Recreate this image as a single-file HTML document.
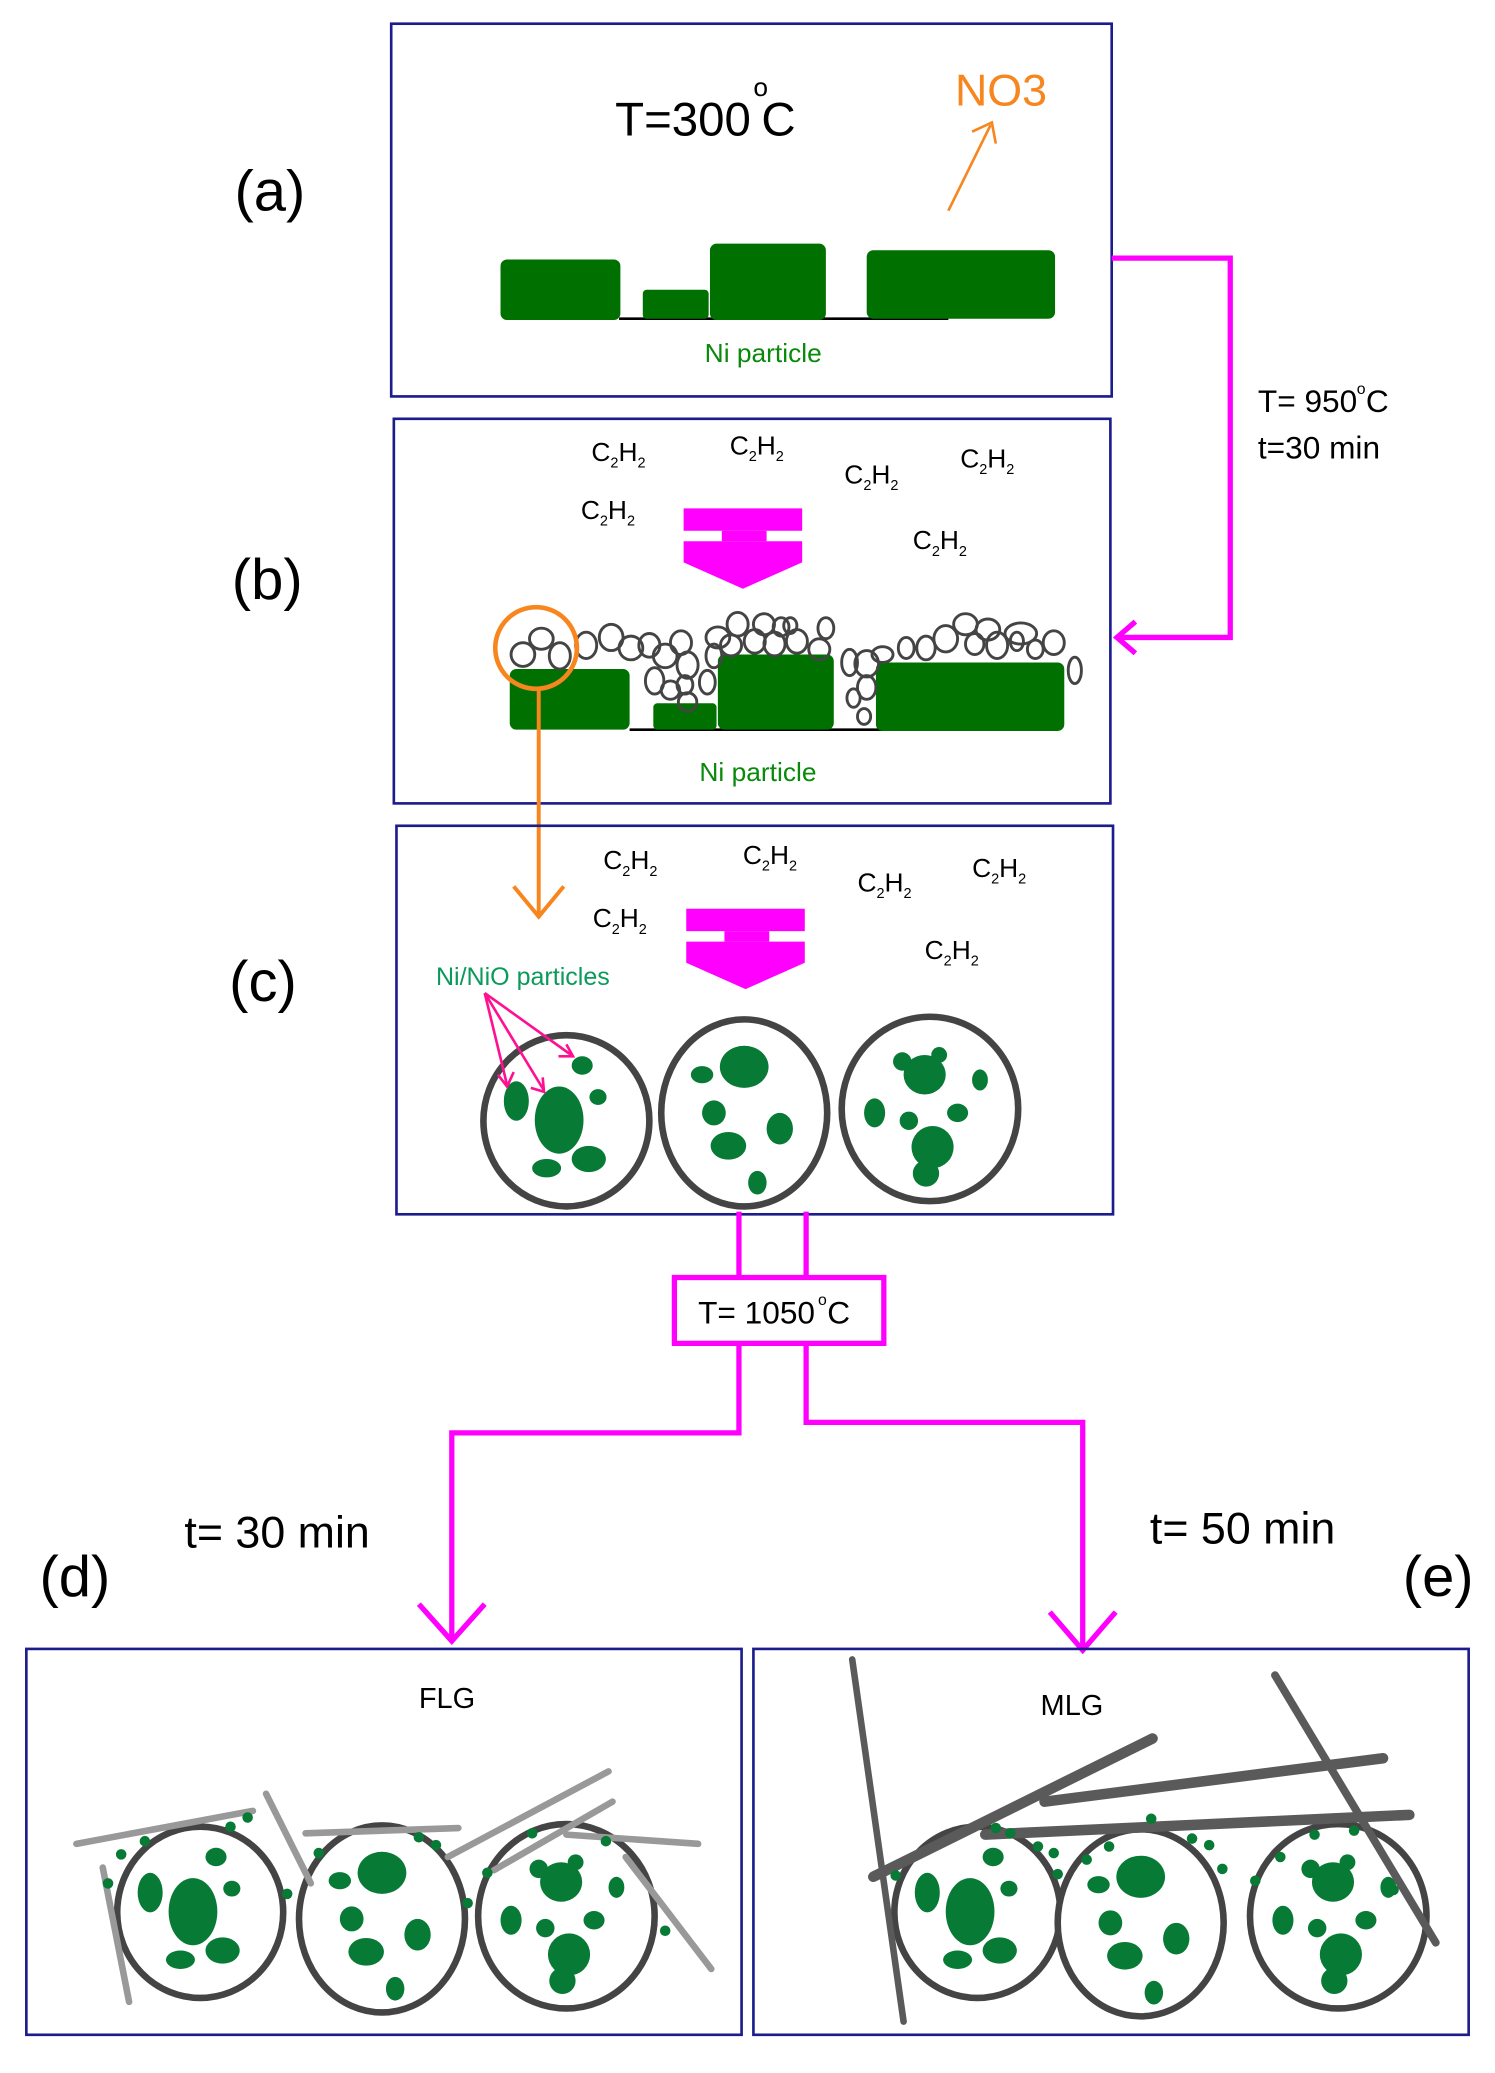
<!DOCTYPE html>
<html><head><meta charset="utf-8"><style>
html,body{margin:0;padding:0;background:#fff;}
svg{display:block;}
text{font-family:"Liberation Sans",sans-serif;}
</style></head><body>
<svg width="1495" height="2073" viewBox="0 0 1135 1574" preserveAspectRatio="none" xmlns="http://www.w3.org/2000/svg">
<defs>
<g id="c1">
 <ellipse cx="430" cy="851" rx="63" ry="65" fill="#fff" stroke="#444" stroke-width="5"/>
 <ellipse cx="392" cy="836" rx="9.5" ry="15" fill="#077a35"/>
 <ellipse cx="424.5" cy="850.5" rx="18.5" ry="25.5" fill="#077a35"/>
 <ellipse cx="442" cy="809" rx="8" ry="7" fill="#077a35"/>
 <ellipse cx="454" cy="833" rx="6.5" ry="6" fill="#077a35"/>
 <ellipse cx="415" cy="887" rx="11" ry="7" fill="#077a35"/>
 <ellipse cx="447" cy="880" rx="13" ry="10" fill="#077a35"/>
</g>
<g id="c2">
 <ellipse cx="565" cy="845" rx="63" ry="71" fill="#fff" stroke="#444" stroke-width="5"/>
 <ellipse cx="565" cy="810" rx="18.5" ry="16" fill="#077a35"/>
 <ellipse cx="533" cy="816" rx="8.5" ry="6.5" fill="#077a35"/>
 <ellipse cx="542" cy="845" rx="9" ry="9.5" fill="#077a35"/>
 <ellipse cx="553" cy="870" rx="13.5" ry="10.5" fill="#077a35"/>
 <ellipse cx="575" cy="898" rx="7" ry="9" fill="#077a35"/>
 <ellipse cx="592" cy="857" rx="10" ry="12" fill="#077a35"/>
</g>
<g id="c3">
 <ellipse cx="706" cy="842" rx="67" ry="70" fill="#fff" stroke="#444" stroke-width="5"/>
 <ellipse cx="702" cy="816" rx="16" ry="15" fill="#077a35"/>
 <circle cx="685" cy="806" r="7" fill="#077a35"/>
 <circle cx="713" cy="801" r="6" fill="#077a35"/>
 <ellipse cx="744" cy="820" rx="6" ry="8" fill="#077a35"/>
 <ellipse cx="664" cy="845" rx="8" ry="11" fill="#077a35"/>
 <ellipse cx="727" cy="845" rx="8" ry="7" fill="#077a35"/>
 <circle cx="690" cy="851" r="7" fill="#077a35"/>
 <ellipse cx="708" cy="871" rx="16" ry="16" fill="#077a35"/>
 <ellipse cx="703" cy="891" rx="10" ry="10" fill="#077a35"/>
</g>
<g id="arr">
 <rect x="0" y="0" width="90" height="17" fill="#f0f"/>
 <rect x="29" y="17" width="34" height="8" fill="#f0f"/>
 <polygon points="0,25 90,25 90,41 45,61 0,41" fill="#f0f"/>
</g>
</defs>

<!-- Box a -->
<rect x="297" y="18" width="547" height="283" fill="none" stroke="#1c1c8c" stroke-width="2"/>
<text x="178" y="160" font-size="44">(a)</text>
<text x="467" y="103" font-size="36">T=300</text>
<text x="572" y="73" font-size="20">o</text>
<text x="578" y="103" font-size="36">C</text>
<text x="725" y="80" font-size="34" fill="#f7861e">NO3</text>
<line x1="720" y1="160" x2="752" y2="95" stroke="#f7861e" stroke-width="2"/>
<polyline points="738,100 753,93 756,109" fill="none" stroke="#f7861e" stroke-width="2"/>
<line x1="470" y1="242" x2="720" y2="242" stroke="#000" stroke-width="2"/>
<rect x="380" y="197" width="91" height="46" rx="5" fill="#007000"/>
<rect x="488" y="220" width="50" height="22" rx="3" fill="#007000"/>
<rect x="539" y="185" width="88" height="58" rx="5" fill="#007000"/>
<rect x="658" y="190" width="143" height="52" rx="5" fill="#007000"/>
<text x="535" y="275" font-size="20" fill="#0a8a0a">Ni particle</text>

<!-- magenta connector a->b -->
<polyline points="844,196 934,196 934,484 850,484" fill="none" stroke="#f0f" stroke-width="4"/>
<polyline points="862,472 848,484 862,496" fill="none" stroke="#f0f" stroke-width="4"/>
<text x="955" y="313" font-size="24">T= 950</text>
<text x="1030" y="299" font-size="12">o</text>
<text x="1037" y="313" font-size="24">C</text>
<text x="955" y="348" font-size="24">t=30 min</text>

<!-- Box b -->
<rect x="299" y="318" width="544" height="292" fill="none" stroke="#1c1c8c" stroke-width="2"/>
<text x="176" y="455" font-size="44">(b)</text>
<g font-size="20">
<text x="449" y="350">C<tspan font-size="11" dy="5">2</tspan><tspan dy="-5">H</tspan><tspan font-size="11" dy="5">2</tspan></text>
<text x="554" y="345">C<tspan font-size="11" dy="5">2</tspan><tspan dy="-5">H</tspan><tspan font-size="11" dy="5">2</tspan></text>
<text x="641" y="367">C<tspan font-size="11" dy="5">2</tspan><tspan dy="-5">H</tspan><tspan font-size="11" dy="5">2</tspan></text>
<text x="729" y="355">C<tspan font-size="11" dy="5">2</tspan><tspan dy="-5">H</tspan><tspan font-size="11" dy="5">2</tspan></text>
<text x="441" y="394">C<tspan font-size="11" dy="5">2</tspan><tspan dy="-5">H</tspan><tspan font-size="11" dy="5">2</tspan></text>
<text x="693" y="417">C<tspan font-size="11" dy="5">2</tspan><tspan dy="-5">H</tspan><tspan font-size="11" dy="5">2</tspan></text>
</g>
<use href="#arr" x="519" y="386"/>
<line x1="478" y1="554" x2="725" y2="554" stroke="#000" stroke-width="2"/>
<rect x="387" y="508" width="91" height="46" rx="5" fill="#007000"/>
<rect x="496" y="534" width="48" height="20" rx="3" fill="#007000"/>
<rect x="545" y="497" width="88" height="57" rx="5" fill="#007000"/>
<rect x="665" y="503" width="143" height="52" rx="5" fill="#007000"/>
<g fill="none" stroke="#444" stroke-width="2.2">
<ellipse cx="397" cy="497" rx="9" ry="9"/><ellipse cx="411" cy="485" rx="9" ry="8"/><ellipse cx="425" cy="498" rx="8" ry="10"/>
<ellipse cx="445" cy="490" rx="8" ry="10"/><ellipse cx="464" cy="484" rx="9" ry="10"/><ellipse cx="479" cy="492" rx="9" ry="9"/>
<ellipse cx="493" cy="490" rx="8" ry="9"/><ellipse cx="505" cy="498" rx="9" ry="9"/><ellipse cx="497" cy="517" rx="7" ry="10"/>
<ellipse cx="517" cy="488" rx="8" ry="9"/><ellipse cx="522" cy="505" rx="8" ry="10"/><ellipse cx="509" cy="524" rx="7" ry="7"/>
<ellipse cx="520" cy="520" rx="6" ry="7"/><ellipse cx="537" cy="518" rx="6" ry="9"/><ellipse cx="522" cy="533" rx="7" ry="7"/>
<ellipse cx="542" cy="498" rx="6" ry="9"/><ellipse cx="545" cy="484" rx="9" ry="8"/><ellipse cx="560" cy="474" rx="8" ry="9"/>
<ellipse cx="555" cy="490" rx="8" ry="8"/><ellipse cx="573" cy="487" rx="8" ry="9"/><ellipse cx="580" cy="474" rx="8" ry="8"/>
<ellipse cx="593" cy="476" rx="6" ry="7"/><ellipse cx="588" cy="489" rx="8" ry="9"/><ellipse cx="605" cy="487" rx="8" ry="9"/>
<ellipse cx="600" cy="475" rx="5" ry="6"/><ellipse cx="627" cy="477" rx="6" ry="8"/><ellipse cx="622" cy="493" rx="8" ry="8"/>
<ellipse cx="645" cy="503" rx="6" ry="10"/><ellipse cx="658" cy="504" rx="9" ry="10"/><ellipse cx="658" cy="522" rx="7" ry="9"/>
<ellipse cx="648" cy="530" rx="5" ry="7"/><ellipse cx="656" cy="544" rx="5" ry="6"/><ellipse cx="670" cy="497" rx="8" ry="6"/>
<ellipse cx="688" cy="492" rx="6" ry="8"/><ellipse cx="703" cy="492" rx="7" ry="9"/><ellipse cx="718" cy="485" rx="9" ry="10"/>
<ellipse cx="733" cy="474" rx="9" ry="8"/><ellipse cx="740" cy="489" rx="7" ry="8"/><ellipse cx="750" cy="478" rx="9" ry="8"/>
<ellipse cx="757" cy="490" rx="8" ry="10"/><ellipse cx="772" cy="487" rx="5" ry="7"/><ellipse cx="775" cy="481" rx="12" ry="8"/>
<ellipse cx="786" cy="493" rx="6" ry="7"/><ellipse cx="800" cy="488" rx="8" ry="9"/><ellipse cx="816" cy="509" rx="5" ry="10"/>
</g>
<circle cx="407" cy="492" r="31" fill="none" stroke="#f7861e" stroke-width="3.5"/>
<line x1="409" y1="523" x2="409" y2="695" stroke="#f7861e" stroke-width="3"/>
<polyline points="390,673 409,696 428,673" fill="none" stroke="#f7861e" stroke-width="3"/>
<text x="531" y="593" font-size="20" fill="#0a8a0a">Ni particle</text>

<!-- Box c -->
<rect x="301" y="627" width="544" height="295" fill="none" stroke="#1c1c8c" stroke-width="2"/>
<text x="174" y="760" font-size="44">(c)</text>
<g font-size="20">
<text x="458" y="660">C<tspan font-size="11" dy="5">2</tspan><tspan dy="-5">H</tspan><tspan font-size="11" dy="5">2</tspan></text>
<text x="564" y="656">C<tspan font-size="11" dy="5">2</tspan><tspan dy="-5">H</tspan><tspan font-size="11" dy="5">2</tspan></text>
<text x="651" y="677">C<tspan font-size="11" dy="5">2</tspan><tspan dy="-5">H</tspan><tspan font-size="11" dy="5">2</tspan></text>
<text x="738" y="666">C<tspan font-size="11" dy="5">2</tspan><tspan dy="-5">H</tspan><tspan font-size="11" dy="5">2</tspan></text>
<text x="450" y="704">C<tspan font-size="11" dy="5">2</tspan><tspan dy="-5">H</tspan><tspan font-size="11" dy="5">2</tspan></text>
<text x="702" y="728">C<tspan font-size="11" dy="5">2</tspan><tspan dy="-5">H</tspan><tspan font-size="11" dy="5">2</tspan></text>
</g>
<use href="#arr" x="521" y="690"/>
<text x="331" y="748" font-size="19" fill="#0a9a5a">Ni/NiO particles</text>
<use href="#c1"/><use href="#c2"/><use href="#c3"/>
<g stroke="#ff1090" stroke-width="2" fill="none">
<line x1="368" y1="754" x2="385" y2="824"/><line x1="368" y1="754" x2="413" y2="828"/><line x1="368" y1="754" x2="435" y2="802"/>
<polyline points="378,816 385,825 390,814"/><polyline points="403,826 413,829 412,818"/><polyline points="424,802 435,802 430,793"/>
</g>

<!-- T=1050 connector -->
<g stroke="#f0f" stroke-width="4" fill="none">
<line x1="561" y1="920" x2="561" y2="970"/><line x1="612" y1="920" x2="612" y2="970"/>
<rect x="512" y="970" width="159" height="50"/>
<polyline points="561,1020 561,1088 343,1088 343,1245"/>
<polyline points="318,1218 343,1246 368,1218"/>
<polyline points="612,1020 612,1080 822,1080 822,1252"/>
<polyline points="797,1224 822,1253 847,1224"/>
</g>
<text x="530" y="1005" font-size="24">T= 1050</text>
<text x="621" y="991" font-size="12">o</text>
<text x="628" y="1005" font-size="24">C</text>
<text x="140" y="1175" font-size="34">t= 30 min</text>
<text x="30" y="1212" font-size="44">(d)</text>
<text x="873" y="1172" font-size="34">t= 50 min</text>
<text x="1065" y="1212" font-size="44">(e)</text>

<!-- Box d -->
<rect x="20" y="1252" width="543" height="293" fill="none" stroke="#1c1c8c" stroke-width="2"/>
<text x="318" y="1297" font-size="22">FLG</text>
<use href="#c1" transform="translate(-278,601)"/>
<use href="#c2" transform="translate(-275,612)"/>
<use href="#c3" transform="translate(-276,613)"/>
<g stroke="#999" stroke-width="5" stroke-linecap="round">
<line x1="58" y1="1400" x2="192" y2="1375"/>
<line x1="78" y1="1418" x2="98" y2="1520"/>
<line x1="202" y1="1362" x2="236" y2="1430"/>
<line x1="232" y1="1392" x2="348" y2="1388"/>
<line x1="340" y1="1410" x2="462" y2="1345"/>
<line x1="375" y1="1420" x2="465" y2="1368"/>
<line x1="430" y1="1393" x2="530" y2="1400"/>
<line x1="475" y1="1410" x2="540" y2="1495"/>
</g>
<g fill="#077a35">
<circle cx="82" cy="1430" r="4"/><circle cx="92" cy="1408" r="4"/><circle cx="110" cy="1398" r="4"/>
<circle cx="175" cy="1387" r="4"/><circle cx="188" cy="1380" r="4"/><circle cx="218" cy="1438" r="4"/>
<circle cx="242" cy="1407" r="4"/><circle cx="318" cy="1395" r="4"/><circle cx="331" cy="1401" r="4"/>
<circle cx="370" cy="1422" r="4"/><circle cx="404" cy="1392" r="4"/><circle cx="460" cy="1398" r="4"/>
<circle cx="505" cy="1466" r="4"/><circle cx="355" cy="1445" r="4"/>
</g>

<!-- Box e -->
<rect x="572" y="1252" width="543" height="293" fill="none" stroke="#1c1c8c" stroke-width="2"/>
<text x="790" y="1302" font-size="22">MLG</text>
<use href="#c1" transform="translate(312,601)"/>
<use href="#c2" transform="translate(301,615)"/>
<use href="#c3" transform="translate(310,613)"/>
<g stroke="#5a5a5a" stroke-linecap="round">
<line x1="647" y1="1260" x2="686" y2="1535" stroke-width="5"/>
<line x1="663" y1="1425" x2="875" y2="1320" stroke-width="8"/>
<line x1="968" y1="1272" x2="1090" y2="1475" stroke-width="6"/>
<line x1="793" y1="1368" x2="1050" y2="1335" stroke-width="8"/>
<line x1="748" y1="1393" x2="1070" y2="1378" stroke-width="8"/>
</g>
<g fill="#077a35">
<circle cx="680" cy="1424" r="4"/><circle cx="756" cy="1388" r="4"/><circle cx="767" cy="1392" r="4"/>
<circle cx="788" cy="1402" r="4"/><circle cx="800" cy="1407" r="4"/><circle cx="803" cy="1423" r="4"/>
<circle cx="825" cy="1412" r="4"/><circle cx="842" cy="1402" r="4"/><circle cx="874" cy="1381" r="4"/>
<circle cx="905" cy="1396" r="4"/><circle cx="918" cy="1401" r="4"/><circle cx="928" cy="1419" r="4"/>
<circle cx="953" cy="1428" r="4"/><circle cx="972" cy="1410" r="4"/><circle cx="998" cy="1393" r="4"/>
<circle cx="1028" cy="1390" r="4"/><circle cx="1058" cy="1435" r="4"/>
</g>
</svg>
</body></html>
